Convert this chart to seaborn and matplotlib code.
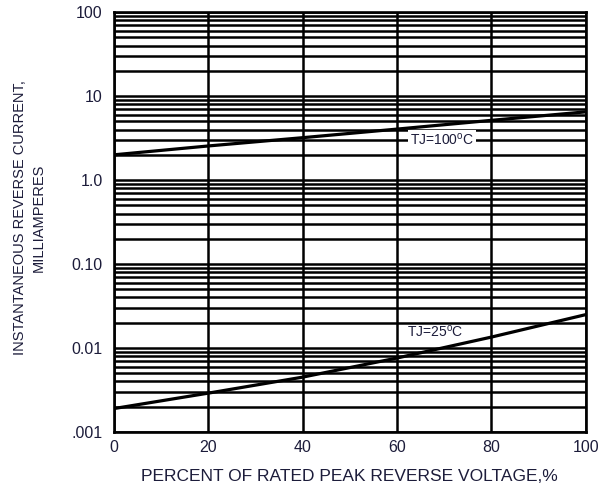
import matplotlib
matplotlib.use("Agg")
import matplotlib.pyplot as plt
import seaborn as sns
import pandas as pd
import numpy as np
from matplotlib.ticker import FixedLocator, NullFormatter

sns.set_style("white")
plt.rcParams['font.family'] = ['Liberation Sans', 'DejaVu Sans']

# Data
voltage_pct = [0, 20, 40, 60, 80, 100]
current_100c = [2.0, 2.55, 3.2, 4.05, 5.15, 6.5]
current_25c = [0.0019, 0.0029, 0.0045, 0.0076, 0.0135, 0.025]
series_labels = ["TJ=100$^{\\mathregular{o}}$C", "TJ=25$^{\\mathregular{o}}$C"]

ytick_vals = [0.001, 0.01, 0.1, 1, 10, 100]
ytick_labels = [".001", "0.01", "0.10", "1.0", "10", "100"]
xtick_vals = [0, 20, 40, 60, 80, 100]

df = pd.DataFrame({
    "x": voltage_pct * 2,
    "y": current_100c + current_25c,
    "s": ["100"] * len(voltage_pct) + ["25"] * len(voltage_pct),
})

TXT = "#1c1c3a"

fig = plt.figure(figsize=(6.09, 4.87), dpi=100)
ax = fig.add_axes([0.187, 0.113, 0.775, 0.862])
ax.set_yscale("log")
ax.set_xlim(0, 100)
ax.set_ylim(0.001, 100)

# grid lines
minor = [m * 10.0 ** e for e in range(-3, 2) for m in range(2, 10)]
ax.yaxis.set_major_locator(FixedLocator(ytick_vals))
ax.yaxis.set_minor_locator(FixedLocator(minor))
ax.yaxis.set_minor_formatter(NullFormatter())
ax.set_yticklabels(ytick_labels)
ax.set_xticks(xtick_vals)
ax.set_xticklabels([str(v) for v in xtick_vals])
ax.grid(True, which="both", axis="y", color="black", linewidth=1.8)
ax.grid(True, which="major", axis="x", color="black", linewidth=1.8)
ax.set_axisbelow(True)
ax.tick_params(which="both", length=0)
ax.tick_params(axis="y", pad=8, labelsize=11.5, labelcolor=TXT)
ax.tick_params(axis="x", pad=6, labelsize=11.5, labelcolor=TXT)
for sp in ax.spines.values():
    sp.set_color("black")
    sp.set_linewidth(1.9)

sns.lineplot(data=df, x="x", y="y", hue="s", palette=["black", "black"],
             linewidth=2.3, legend=False, ax=ax, zorder=3)

ax.text(69.5, 3.0, series_labels[0], ha="center", va="center", fontsize=10,
        color=TXT, zorder=4,
        bbox=dict(facecolor="white", edgecolor="none", pad=1.5))
ax.text(68, 0.0155, series_labels[1], ha="center", va="center", fontsize=10,
        color=TXT, zorder=4)

ax.set_xlabel("PERCENT OF RATED PEAK REVERSE VOLTAGE,%", fontsize=12.5,
              color=TXT)
ax.xaxis.set_label_coords(0.5, -0.088)
ax.set_ylabel("INSTANTANEOUS REVERSE CURRENT,\nMILLIAMPERES", fontsize=10.5,
              color=TXT, linespacing=1.4)
ax.yaxis.set_label_coords(-0.145, 0.51)

fig.savefig("out.png", dpi=100)
